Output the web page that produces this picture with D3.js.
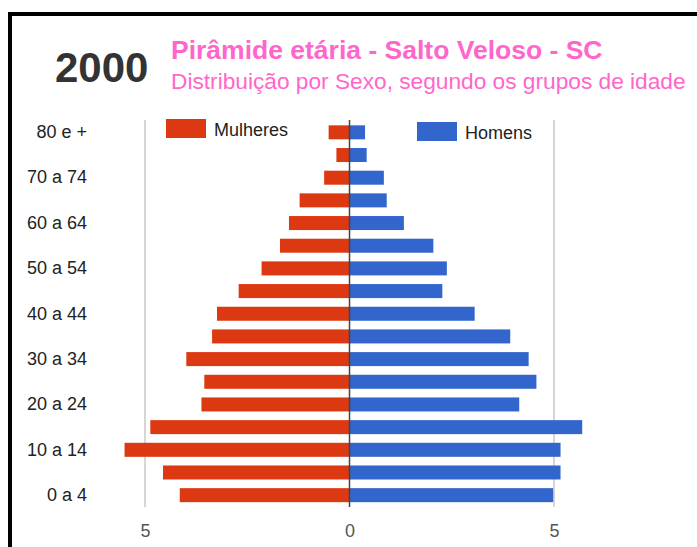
<!DOCTYPE html>
<html>
<head>
<meta charset="utf-8">
<script src="https://cdn.jsdelivr.net/npm/d3@7"></script>
<style>
  body { margin: 0; background: #fff; }
  svg { display: block; font-family: Arial, "Liberation Sans", sans-serif; }
</style>
</head>
<body>
<div id="piramide"><svg></svg></div>
<script>
const width = 697;
const height = 547;

// grupos de idade, de cima para baixo
const ageGroups = ["80 e +", "75 a 79", "70 a 74", "65 a 69", "60 a 64", "55 a 59",
  "50 a 54", "45 a 49", "40 a 44", "35 a 39", "30 a 34", "25 a 29",
  "20 a 24", "15 a 19", "10 a 14", "5 a 9", "0 a 4"];
// percentuais (%)
const women = [0.51, 0.32, 0.62, 1.22, 1.48, 1.70, 2.15, 2.71, 3.24, 3.36, 3.99, 3.55,
  3.62, 4.87, 5.50, 4.56, 4.15];
const men = [0.38, 0.42, 0.84, 0.91, 1.33, 2.05, 2.38, 2.27, 3.06, 3.93, 4.38, 4.57,
  4.15, 5.69, 5.16, 5.16, 4.98];
const xTicks = [-5, 0, 5];
const legendLabels = ["Mulheres", "Homens"];

const red = '#DC3912';
const blue = '#3366CC';
const pink = '#ff66cc';

const svg = d3.select('#piramide').select('svg')
    .attr('width', width)
    .attr('height', height);

// moldura preta
svg.append('rect')
    .attr('x', 10).attr('y', 14)
    .attr('width', 760).attr('height', 600)
    .attr('fill', '#fff')
    .attr('stroke', '#000')
    .attr('stroke-width', 4);

const x = d3.scaleLinear().domain([-5, 5]).range([145, 554]);
const y = d3.scaleBand().domain(ageGroups).range([121, 506.5]).paddingInner(0.382).paddingOuter(0.191);

// linhas de grade
svg.append('g')
  .selectAll('line')
  .data(xTicks.filter(d => d !== 0))
  .join('line')
    .attr('x1', d => x(d)).attr('x2', d => x(d))
    .attr('y1', 120).attr('y2', 507)
    .attr('stroke', '#d6d6d6')
    .attr('stroke-width', 2);

// barras
svg.append('g')
  .selectAll('rect')
  .data(ageGroups)
  .join('rect')
    .attr('x', (d, i) => x(-women[i]))
    .attr('y', d => y(d))
    .attr('width', (d, i) => x(0) - x(-women[i]))
    .attr('height', y.bandwidth())
    .attr('fill', red);

svg.append('g')
  .selectAll('rect')
  .data(ageGroups)
  .join('rect')
    .attr('x', x(0))
    .attr('y', d => y(d))
    .attr('width', (d, i) => x(men[i]) - x(0))
    .attr('height', y.bandwidth())
    .attr('fill', blue);

// linha do zero
svg.append('line')
    .attr('x1', x(0)).attr('x2', x(0))
    .attr('y1', 120).attr('y2', 507)
    .attr('stroke', '#444')
    .attr('stroke-width', 1.5);

// eixo y
const yAxis = svg.append('g')
    .attr('transform', 'translate(90,0)')
    .call(d3.axisLeft(y)
      .tickValues(ageGroups.filter((d, i) => i % 2 === 0))
      .tickSize(0)
      .tickPadding(3));
yAxis.select('.domain').remove();
yAxis.selectAll('text')
    .attr('font-size', 18)
    .attr('font-family', 'Arial, "Liberation Sans", sans-serif')
    .attr('fill', '#222');

// eixo x
const xAxis = svg.append('g')
    .attr('transform', 'translate(0,507)')
    .call(d3.axisBottom(x)
      .tickValues(xTicks)
      .tickFormat(d => Math.abs(d))
      .tickSize(0)
      .tickPadding(17));
xAxis.select('.domain').remove();
xAxis.selectAll('text')
    .attr('font-size', 18)
    .attr('font-family', 'Arial, "Liberation Sans", sans-serif')
    .attr('fill', '#555');

// legenda
const legend = [
  {label: legendLabels[0], color: red, x: 166, y: 119},
  {label: legendLabels[1], color: blue, x: 417, y: 122}
];
const lg = svg.append('g')
  .selectAll('g')
  .data(legend)
  .join('g')
    .attr('transform', d => `translate(${d.x},${d.y})`);
lg.append('rect')
    .attr('width', 40).attr('height', 19)
    .attr('fill', d => d.color);
lg.append('text')
    .attr('x', 48).attr('y', 16.5)
    .attr('font-size', 18)
    .attr('fill', '#222')
    .text(d => d.label);

// títulos
svg.append('text')
    .attr('x', 55).attr('y', 82)
    .attr('font-size', 42)
    .attr('font-weight', 'bold')
    .attr('fill', '#333')
    .text('2000');

svg.append('text')
    .attr('x', 171).attr('y', 59)
    .attr('font-size', 26.5)
    .attr('font-weight', 'bold')
    .attr('fill', pink)
    .text('Pirâmide etária - Salto Veloso - SC');

svg.append('text')
    .attr('x', 171).attr('y', 89)
    .attr('font-size', 22.7)
    .attr('fill', pink)
    .text('Distribuição por Sexo, segundo os grupos de idade');
</script>
</body>
</html>
